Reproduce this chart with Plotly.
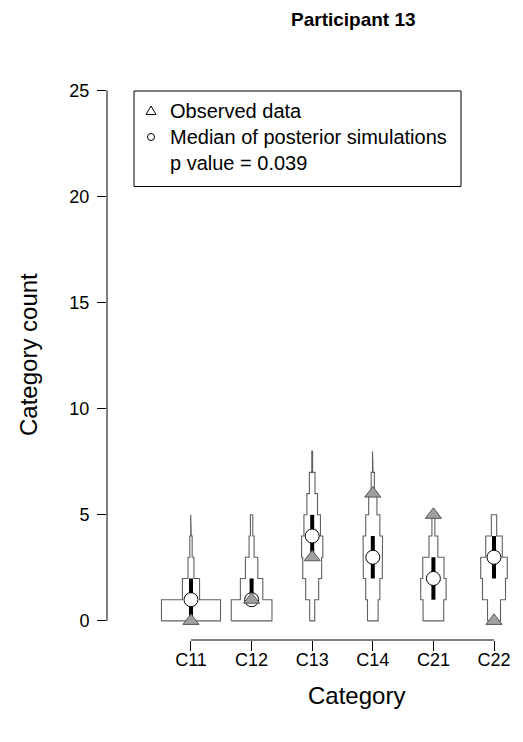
import plotly.graph_objects as go

# ---------------- data ----------------
categories = ["C11", "C12", "C13", "C14", "C21", "C22"]
observed = [0, 1, 3, 6, 5, 0]
sim_median = [1, 1, 4, 3, 2, 3]
sim_q25 = [0, 1, 3, 2, 1, 2]
sim_q75 = [2, 2, 5, 4, 3, 4]

# relative frequency of simulated counts, one value per unit bin [k, k+1]
sim_freq_C11 = [1.00, 0.29, 0.10, 0.04, 0.01]
sim_freq_C12 = [0.69, 0.38, 0.21, 0.085, 0.04]
sim_freq_C13 = [0.085, 0.22, 0.32, 0.36, 0.28, 0.18, 0.095, 0.014]
sim_freq_C14 = [0.18, 0.24, 0.32, 0.33, 0.24, 0.14, 0.054, 0.01]
sim_freq_C21 = [0.35, 0.43, 0.36, 0.15, 0.05]
sim_freq_C22 = [0.22, 0.39, 0.45, 0.28, 0.09]
sim_freqs = [sim_freq_C11, sim_freq_C12, sim_freq_C13,
             sim_freq_C14, sim_freq_C21, sim_freq_C22]

y_ticks = [0, 5, 10, 15, 20, 25]
p_value = 0.039
title_text = "Participant 13"

# ---------------- layout constants ----------------
OFF = 8                       # default body margin of the html page
W, H = 523 - 2 * OFF, 742 - 2 * OFF
# plot area in page pixels: left 107, right 510, top 82, bottom 640
ML = 107 - OFF
MT = 82 - OFF
MR = W - (510 - OFF)
MB = H - (640 - OFF)
PW, PH = W - ML - MR, H - MT - MB
X_RANGE = [-0.386, 6.264]
Y_RANGE = [-0.9, 25.4]
WIDTH_SCALE = 0.487          # half-width (category units) of a bin with freq 1
MIN_HALF = 0.004
FONT = "Liberation Sans, Arial, sans-serif"
OUTLINE = "#606060"


def px_x(p):
    """page pixel x -> paper fraction"""
    return (p - OFF - ML) / PW


def px_y(p):
    """page pixel y -> paper fraction"""
    return (MT + PH - (p - OFF)) / PH


fig = go.Figure()
xpos = list(range(1, len(categories) + 1))

# stepped distribution shapes
for xi, freqs in zip(xpos, sim_freqs):
    halfs = [max(f * WIDTH_SCALE, MIN_HALF) for f in freqs]
    xs, ys = [], []
    for k, h in enumerate(halfs):
        xs += [xi - h, xi - h]
        ys += [k, k + 1]
    for k in range(len(halfs) - 1, -1, -1):
        h = halfs[k]
        xs += [xi + h, xi + h]
        ys += [k + 1, k]
    xs.append(xs[0])
    ys.append(ys[0])
    fig.add_trace(go.Scatter(x=xs, y=ys, mode="lines", fill="toself",
                             fillcolor="white",
                             line=dict(color=OUTLINE, width=1.1),
                             hoverinfo="skip", showlegend=False))

# interquartile bars
iqx, iqy = [], []
for xi, lo, hi in zip(xpos, sim_q25, sim_q75):
    iqx += [xi, xi, None]
    iqy += [lo, hi, None]
fig.add_trace(go.Scatter(x=iqx, y=iqy, mode="lines",
                         line=dict(color="black", width=4),
                         hoverinfo="skip", showlegend=False))

# median of simulations
fig.add_trace(go.Scatter(x=xpos, y=sim_median, mode="markers",
                         marker=dict(symbol="circle", size=14, color="white",
                                     line=dict(color="black", width=1)),
                         showlegend=False))

# observed data
fig.add_trace(go.Scatter(x=xpos, y=observed, mode="markers",
                         marker=dict(symbol="triangle-up", size=14,
                                     color="#a0a0a0",
                                     line=dict(color="#555555", width=1)),
                         showlegend=False))

shapes = []
# axis lines (R style: only spanning the tick range)
shapes.append(dict(type="line", xref="paper", yref="y", x0=0, x1=0,
                   y0=y_ticks[0], y1=y_ticks[-1],
                   line=dict(color="black", width=1)))
shapes.append(dict(type="line", xref="x", yref="paper", x0=xpos[0],
                   x1=xpos[-1], y0=0, y1=0,
                   line=dict(color="black", width=1)))

# legend box
shapes.append(dict(type="rect", xref="paper", yref="paper",
                   x0=px_x(134), x1=px_x(461), y0=px_y(186.5), y1=px_y(91),
                   line=dict(color="black", width=1), fillcolor="white",
                   layer="above"))
# legend symbols
leg_sym_x = px_x(151)
shapes.append(dict(type="path", xref="paper", yref="paper",
                   xsizemode="pixel", ysizemode="pixel",
                   xanchor=leg_sym_x, yanchor=px_y(111),
                   path="M -5,-3.5 L 5,-3.5 L 0,5 Z",
                   line=dict(color="black", width=1), layer="above"))
shapes.append(dict(type="circle", xref="paper", yref="paper",
                   xsizemode="pixel", ysizemode="pixel",
                   xanchor=leg_sym_x, yanchor=px_y(137),
                   x0=-3.5, x1=3.5, y0=-3.5, y1=3.5,
                   line=dict(color="black", width=1), layer="above"))

annotations = []
leg_lines = ["Observed data", "Median of posterior simulations",
             f"p value = {p_value}"]
for txt, yp in zip(leg_lines, [111, 137, 163]):
    annotations.append(dict(text=txt, xref="paper", yref="paper",
                            x=px_x(168), y=px_y(yp), xanchor="left",
                            yanchor="middle", showarrow=False,
                            font=dict(family=FONT, size=20, color="black")))

annotations.append(dict(text="<b>" + title_text + "</b>", xref="paper",
                        yref="paper", x=px_x(353), y=px_y(20),
                        xanchor="center", yanchor="middle", showarrow=False,
                        font=dict(family=FONT, size=19, color="black")))
annotations.append(dict(text="Category", xref="paper", yref="paper",
                        x=px_x(356), y=px_y(695), xanchor="center",
                        yanchor="middle", showarrow=False,
                        font=dict(family=FONT, size=24, color="black")))
annotations.append(dict(text="Category count", xref="paper", yref="paper",
                        x=px_x(28), y=px_y(355), xanchor="center",
                        yanchor="middle", showarrow=False, textangle=-90,
                        font=dict(family=FONT, size=24, color="black")))

fig.update_layout(
    width=W, height=H,
    margin=dict(l=ML, r=MR, t=MT, b=MB, pad=0),
    paper_bgcolor="white", plot_bgcolor="white",
    shapes=shapes, annotations=annotations,
    showlegend=False,
    xaxis=dict(range=X_RANGE, tickvals=xpos, ticktext=categories,
               showgrid=False, zeroline=False, showline=False,
               ticks="outside", ticklen=10, tickcolor="black", tickwidth=1,
               ticklabelstandoff=-7,
               tickfont=dict(family=FONT, size=18, color="black")),
    yaxis=dict(range=Y_RANGE, tickvals=y_ticks,
               ticktext=[str(v) for v in y_ticks],
               showgrid=False, zeroline=False, showline=False,
               ticks="outside", ticklen=9, tickcolor="black", tickwidth=1,
               ticklabelstandoff=4,
               tickfont=dict(family=FONT, size=18, color="black")),
)

fig.write_html("out.html")
